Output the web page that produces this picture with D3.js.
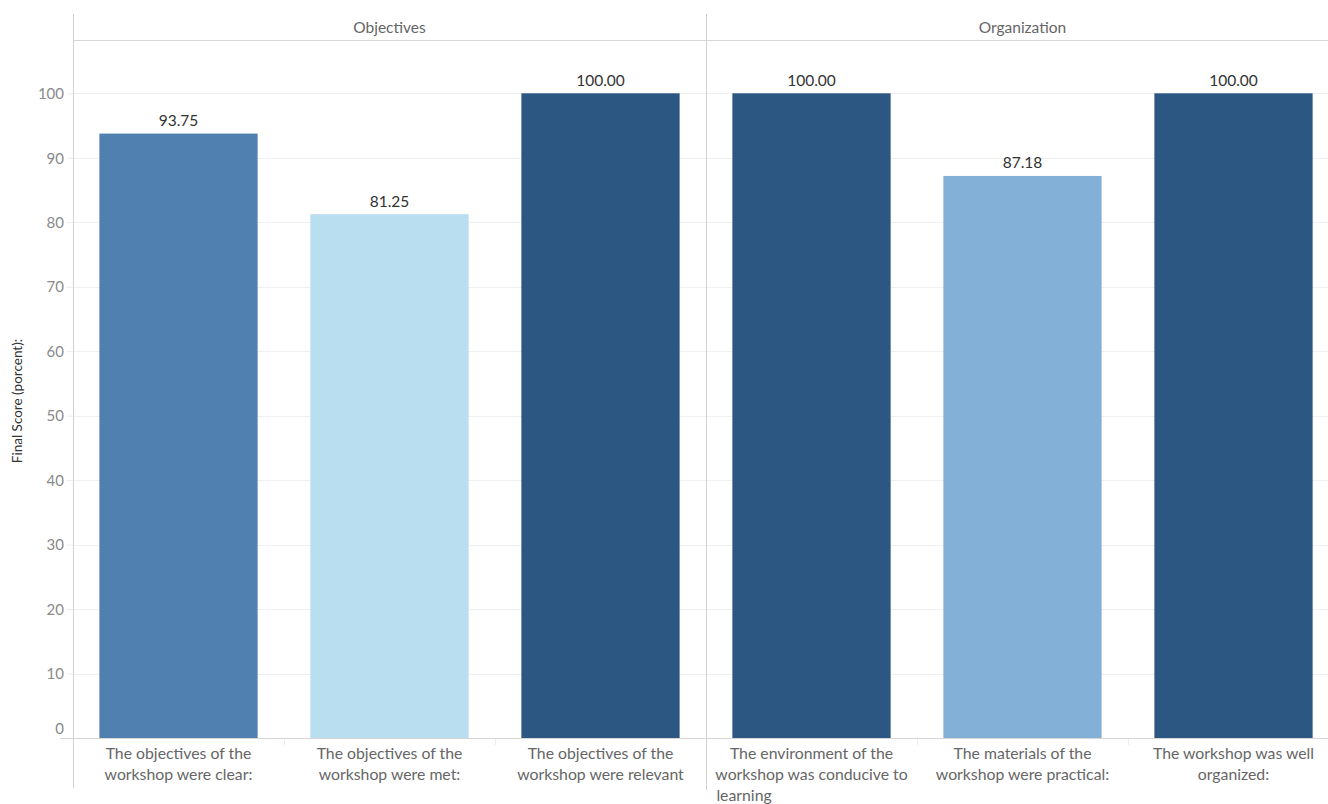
<!DOCTYPE html>
<html>
<head>
<meta charset="utf-8">
<script src="https://cdn.jsdelivr.net/npm/d3@7"></script>
<style>
  html, body { margin: 0; padding: 0; background: #fff; }
  svg { display: block; font-family: Lato, "Open Sans", sans-serif; }
</style>
</head>
<body>
<svg id="chart" width="1328" height="804"></svg>
<script>
// Survey sections (panels) and the questions inside each
const groups = ["Objectives", "Organization"];
const questions = [
  ["The objectives of the", "workshop were clear:"],
  ["The objectives of the", "workshop were met:"],
  ["The objectives of the", "workshop were relevant"],
  ["The environment of the", "workshop was conducive to", "learning"],
  ["The materials of the", "workshop were practical:"],
  ["The workshop was well", "organized:"]
];
const questionGroup = ["Objectives", "Objectives", "Objectives", "Organization", "Organization", "Organization"];
const scores = [93.75, 81.25, 100.00, 100.00, 87.18, 100.00];
const barColors = ["#5080af", "#b9def0", "#2c5783", "#2c5783", "#82b0d6", "#2c5783"];
const yTicks = [0, 10, 20, 30, 40, 50, 60, 70, 80, 90, 100];
const yTitle = "Final Score (porcent):";

const svg = d3.select("#chart");
const left = 73, bandW = 211;
const panelW = bandW * 3;

const y = d3.scaleLinear().domain([0, 100]).range([738, 93.3]);

// one band scale per panel
const panelX = d3.scaleBand().domain(groups).range([left, left + panelW * 2]).padding(0);
const x = d3.scaleBand().domain(d3.range(3)).range([0, panelW]).paddingInner(0.25).paddingOuter(0.125);

// gridlines
svg.append("g")
  .selectAll("line").data(yTicks.filter(d => d > 0)).join("line")
  .attr("x1", left).attr("x2", 1328)
  .attr("y1", d => Math.round(y(d)) + 0.5).attr("y2", d => Math.round(y(d)) + 0.5)
  .attr("stroke", "#efefef").attr("stroke-width", 1);

// y axis labels
const yAxis = d3.axisLeft(y).tickValues(yTicks).tickSize(6).tickFormat(d3.format("d"));
const yg = svg.append("g").attr("transform", `translate(${left},0)`).call(yAxis);
yg.select(".domain").remove();
yg.selectAll(".tick line").attr("stroke", "#ececec");
yg.selectAll(".tick text")
  .attr("fill", "#8a8a8a").attr("font-size", 15).attr("x", -9).attr("dy", "0.35em")
  .attr("font-family", "Lato, 'Open Sans', sans-serif")
  .attr("transform", d => d === 0 ? "translate(0,-10)" : null);

// axis title
svg.append("text")
  .attr("transform", `translate(22,401) rotate(-90)`)
  .attr("text-anchor", "middle")
  .attr("font-size", 13.5).attr("fill", "#333")
  .text(yTitle);

// panel frame lines
svg.append("line").attr("x1", left + 0.5).attr("x2", left + 0.5).attr("y1", 14).attr("y2", 788)
  .attr("stroke", "#d0d0d0");
svg.append("line").attr("x1", left + panelW + 0.5).attr("x2", left + panelW + 0.5).attr("y1", 14).attr("y2", 790)
  .attr("stroke", "#d0d0d0");
svg.append("line").attr("x1", left).attr("x2", 1328).attr("y1", 40.5).attr("y2", 40.5)
  .attr("stroke", "#d6d6d6");
svg.append("line").attr("x1", 60).attr("x2", 1328).attr("y1", 738.5).attr("y2", 738.5)
  .attr("stroke", "#d6d6d6");

// panel headers
svg.append("g").selectAll("text").data(groups).join("text")
  .attr("x", d => panelX(d) + panelW / 2).attr("y", 28).attr("dy", "0.35em")
  .attr("text-anchor", "middle").attr("font-size", 15.5).attr("fill", "#666")
  .text(d => d);

// band separators under the axis
svg.append("g").selectAll("line").data([1, 2, 4, 5]).join("line")
  .attr("x1", d => left + bandW * d + 0.5).attr("x2", d => left + bandW * d + 0.5)
  .attr("y1", 739).attr("y2", 745).attr("stroke", "#ececec");

const items = scores.map((v, i) => ({
  v, i, color: barColors[i], lines: questions[i],
  x0: panelX(questionGroup[i]) + x(i % 3)
}));

// bars
svg.append("g").selectAll("rect").data(items).join("rect")
  .attr("x", d => d.x0).attr("width", x.bandwidth())
  .attr("y", d => y(d.v)).attr("height", d => y(0) - y(d.v))
  .attr("fill", d => d.color);

// value labels
svg.append("g").selectAll("text").data(items).join("text")
  .attr("x", d => d.x0 + x.bandwidth() / 2).attr("y", d => y(d.v) - 13).attr("dy", "0.35em")
  .attr("text-anchor", "middle").attr("font-size", 15.5).attr("fill", "#333")
  .text(d => d3.format(".2f")(d.v));

// category labels
const cat = svg.append("g").selectAll("text").data(items).join("text")
  .attr("text-anchor", "middle").attr("font-size", 15.8).attr("fill", "#666")
  .attr("x", d => d.x0 + x.bandwidth() / 2).attr("y", 753);
cat.selectAll("tspan").data(d => d.lines.map((t, k) => ({ t, k, d }))).join("tspan")
  .attr("y", e => 753 + e.k * 21).attr("dy", "0.35em")
  .attr("text-anchor", e => e.k === 2 ? "start" : "middle")
  .attr("x", e => e.k === 2 ? e.d.x0 - 16 : e.d.x0 + x.bandwidth() / 2)
  .text(e => e.t);
</script>
</body>
</html>
